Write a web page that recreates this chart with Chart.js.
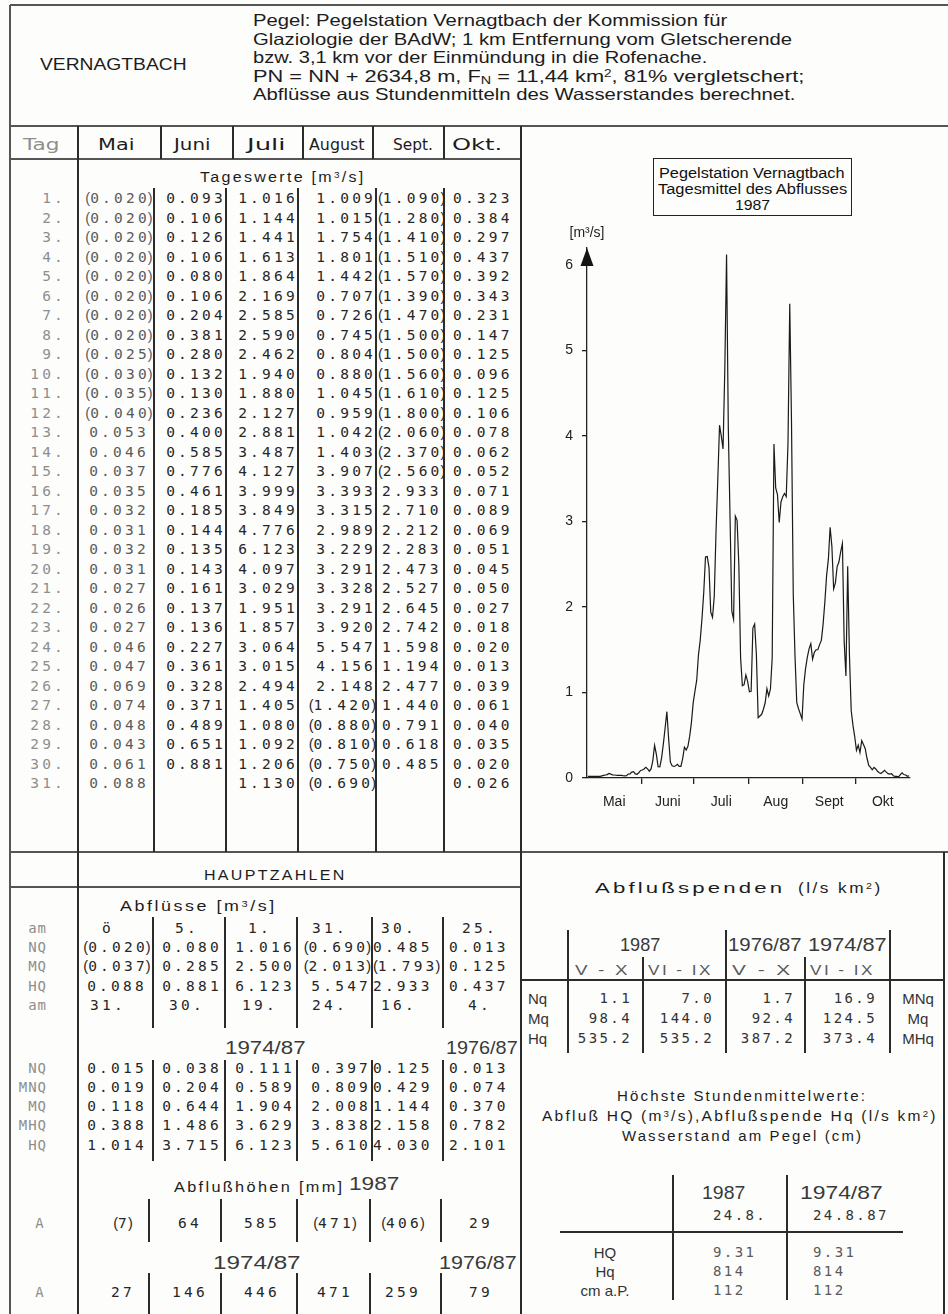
<!DOCTYPE html>
<html lang="de">
<head>
<meta charset="utf-8">
<title>Vernagtbach 1987</title>
<script src="https://cdn.jsdelivr.net/npm/chart.js@4.4.0/dist/chart.umd.min.js"></script>
<style>
  body { margin: 0; background: #fff; }
  #page {
    position: relative; width: 948px; height: 1314px; overflow: hidden;
    background: #fdfdfc; color: #1c1c1c;
    font-family: 'Liberation Sans', Arial, sans-serif;
  }
  .t { position: absolute; white-space: nowrap; line-height: 1; }
  .hd { font-size: 16.5px; }
  .col { font-family: 'DejaVu Sans', sans-serif; font-size: 15px; }
  .m { font-family: 'DejaVu Sans Mono', monospace; font-size: 14.5px; letter-spacing: 3.2px; color: #262626; }
  .ml { font-family: 'DejaVu Sans Mono', monospace; font-size: 14px; letter-spacing: 1px; }
  .sm { font-family: 'DejaVu Sans Mono', monospace; font-size: 14px; letter-spacing: 2.4px; color: #333; }
  .g { color: #8e8e8e; }
  .gm { color: #5a5a5a; }
  .p { font-family: 'Liberation Sans', sans-serif; letter-spacing: 0; }
  .pr { margin-left: -2px; }
  .thin { font-family: 'Liberation Sans Narrow', 'Liberation Sans', sans-serif; font-size: 19px; color: #3a3a3a; }
  .sp { font-size: 14px; letter-spacing: 2px; }
  .lab { font-size: 15px; color: #333; }
  .tb { font-size: 14px; color: #111; }
  .sup { font-size: 0.62em; position: relative; top: -0.45em; }
  .sub { font-size: 0.66em; position: relative; top: 0.22em; }
  .ln { position: absolute; background: #2b2b2b; }
  #titleBox {
    position: absolute; left: 653px; top: 158px; width: 197px; height: 56px;
    border: 1.5px solid #222;
  }
  #chartBox { position: absolute; left: 530px; top: 215px; width: 400px; height: 615px; }
</style>
</head>
<body>
<div id="page">
  <div id="titleBox"></div>
  <div id="chartBox"><canvas id="abfluss" width="400" height="615"></canvas></div>
</div>
<script>
// daily mean discharge 1987 [m3/s]
const mai = [0.020, 0.020, 0.020, 0.020, 0.020, 0.020, 0.020, 0.020, 0.025, 0.030, 0.035, 0.040, 0.053, 0.046, 0.037, 0.035,
  0.032, 0.031, 0.032, 0.031, 0.027, 0.026, 0.027, 0.046, 0.047, 0.069, 0.074, 0.048, 0.043, 0.061, 0.088];
const juni = [0.093, 0.106, 0.126, 0.106, 0.080, 0.106, 0.204, 0.381, 0.280, 0.132, 0.130, 0.236, 0.400, 0.585, 0.776,
  0.461, 0.185, 0.144, 0.135, 0.143, 0.161, 0.137, 0.136, 0.227, 0.361, 0.328, 0.371, 0.489, 0.651, 0.881];
const juli = [1.016, 1.144, 1.441, 1.613, 1.864, 2.169, 2.585, 2.590, 2.462, 1.940, 1.880, 2.127, 2.881, 3.487, 4.127,
  3.999, 3.849, 4.776, 6.123, 4.097, 3.029, 1.951, 1.857, 3.064, 3.015, 2.494, 1.405, 1.080, 1.092, 1.206, 1.130];
const august = [1.009, 1.015, 1.754, 1.801, 1.442, 0.707, 0.726, 0.745, 0.804, 0.880, 1.045, 0.959, 1.042, 1.403, 3.907,
  3.393, 3.315, 2.989, 3.229, 3.291, 3.328, 3.291, 3.920, 5.547, 4.156, 2.148, 1.420, 0.880, 0.810, 0.750, 0.690];
const sept = [1.090, 1.280, 1.410, 1.510, 1.570, 1.390, 1.470, 1.500, 1.500, 1.560, 1.610, 1.800, 2.060, 2.370, 2.560,
  2.933, 2.710, 2.212, 2.283, 2.473, 2.527, 2.645, 2.742, 1.598, 1.194, 2.477, 1.440, 0.791, 0.618, 0.485];
const okt = [0.323, 0.384, 0.297, 0.437, 0.392, 0.343, 0.231, 0.147, 0.125, 0.096, 0.125, 0.106, 0.078, 0.062, 0.052,
  0.071, 0.089, 0.069, 0.051, 0.045, 0.050, 0.027, 0.018, 0.020, 0.013, 0.039, 0.061, 0.040, 0.035, 0.020, 0.026];

// estimated days, printed in brackets: [first, last] per month
const bracketed = [[1, 12], null, null, [27, 31], [1, 15], null];

const monthHeads = ['Mai', 'Juni', 'Juli', 'August', 'Sept.', 'Okt.'];
const monthLabels = ['Mai', 'Juni', 'Juli', 'Aug', 'Sept', 'Okt'];
const yTicks = [0, 1, 2, 3, 4, 5, 6];

// Hauptzahlen, Abflüsse [m3/s]
const amNQ = ['ö', '5.', '1.', '31.', '30.', '25.'];
const nq = ['(0.020)', '0.080', '1.016', '(0.690)', '0.485', '0.013'];
const mq = ['(0.037)', '0.285', '2.500', '(2.013)', '(1.793)', '0.125'];
const hq = ['0.088', '0.881', '6.123', '5.547', '2.933', '0.437'];
const amHQ = ['31.', '30.', '19.', '24.', '16.', '4.'];
const nqLong = ['0.015', '0.038', '0.111', '0.397', '0.125', '0.013'];
const mnqLong = ['0.019', '0.204', '0.589', '0.809', '0.429', '0.074'];
const mqLong = ['0.118', '0.644', '1.904', '2.008', '1.144', '0.370'];
const mhqLong = ['0.388', '1.486', '3.629', '3.838', '2.158', '0.782'];
const hqLong = ['1.014', '3.715', '6.123', '5.610', '4.030', '2.101'];

// Abflußhöhen [mm]
const hoehe1987 = ['(7)', '64', '585', '(471)', '(406)', '29'];
const hoeheLong = ['27', '146', '446', '471', '259', '79'];

// Abflußspenden (l/s km2)
const spendenNq = ['1.1', '7.0', '1.7', '16.9'];
const spendenMq = ['98.4', '144.0', '92.4', '124.5'];
const spendenHq = ['535.2', '535.2', '387.2', '373.4'];

// highest hourly means
const hoechste1987 = ['9.31', '814', '112'];
const hoechsteLong = ['9.31', '814', '112'];

const page = document.getElementById('page');

function txt(html, x, y, o = {}) {
  const el = document.createElement('div');
  el.className = 't ' + (o.cls || '');
  el.innerHTML = html;
  page.appendChild(el);
  const a = o.align || 'l';
  el.style.top = y + 'px';
  if (o.w) {
    const k = o.w / el.offsetWidth;
    el.style.left = (a === 'c' ? x - o.w / 2 : a === 'r' ? x - o.w : x) + 'px';
    el.style.transformOrigin = '0 50%';
    el.style.transform = `translateY(-50%) scaleX(${k})`;
  } else {
    el.style.left = x + 'px';
    const tx = a === 'c' ? -50 : a === 'r' ? -100 : 0;
    el.style.transform = `translate(${tx}%, -50%)`;
  }
  return el;
}

function hl(x1, x2, y, w = 1.4, c = '#2b2b2b') {
  const el = document.createElement('div');
  el.className = 'ln';
  Object.assign(el.style, { left: x1 + 'px', top: (y - w / 2) + 'px', width: (x2 - x1) + 'px', height: w + 'px', background: c });
  page.appendChild(el);
}

function vl(x, y1, y2, w = 1.6, c = '#2b2b2b') {
  const el = document.createElement('div');
  el.className = 'ln';
  Object.assign(el.style, { left: (x - w / 2) + 'px', top: y1 + 'px', width: w + 'px', height: (y2 - y1) + 'px', background: c });
  page.appendChild(el);
}

const paren = (s) => s.replace('(', '<span class="p">(</span>').replace(')', '<span class="p pr">)</span>');

// ---- frame and header ----
hl(10, 948, 5, 1.4, '#555');
vl(10, 5, 1314, 1.4, '#555');
hl(10, 948, 126, 1.4, '#555');
hl(10, 521, 159, 1.4, '#555');
hl(10, 948, 852, 1.4, '#555');
hl(10, 521, 887, 1.4, '#555');
vl(78, 126, 1314);
vl(521, 126, 1314);
vl(944, 852, 1314);

txt('VERNAGTBACH', 40, 64, { cls: 'hd', w: 147 });
const headerLines = [
  ['Pegel: Pegelstation Vernagtbach der Kommission für', 474],
  ['Glaziologie der BAdW; 1 km Entfernung vom Gletscherende', 539],
  ['bzw. 3,1 km vor der Einmündung in die Rofenache.', 454],
  ['PN = NN + 2634,8 m, F<span class="sub">N</span> = 11,44 km<span class="sup">2</span>, 81% vergletschert;', 551],
  ['Abflüsse aus Stundenmitteln des Wasserstandes berechnet.', 543],
];
headerLines.forEach(([s, w], i) => txt(s, 253, 20 + i * 18.6, { cls: 'hd', w }));

// ---- daily values table ----
txt('Tag', 41, 145, { cls: 'col g', align: 'c', w: 36 });
const headSpans = [[98, 134], [174, 211], [247, 285], [309, 365], [393, 433], [452, 502]];
monthHeads.forEach((s, i) => txt(s, headSpans[i][0], 145, { cls: 'col', w: headSpans[i][1] - headSpans[i][0] }));
[161, 233, 303, 373, 444].forEach((x) => vl(x, 126, 159));

txt('Tageswerte [m<span class="sup">3</span>/s]', 283, 177, { cls: 'sp', align: 'c', w: 166 });

[154, 226, 298, 376, 444].forEach((x) => vl(x, 188, 852));

const rowY = (d) => 198 + (d - 1) * 19.5;
const anchors = [['c', 119], ['c', 196], ['c', 268], ['r', 376], ['l', 378], ['l', 449]];
for (let d = 1; d <= 31; d++) {
  txt(d + '.', 66, rowY(d), { cls: 'm g', align: 'r' });
}
[mai, juni, juli, august, sept, okt].forEach((values, m) => {
  const [align, x] = anchors[m];
  const br = bracketed[m];
  values.forEach((v, i) => {
    const day = i + 1;
    const inBr = br && day >= br[0] && day <= br[1];
    const s = inBr ? paren('(' + v.toFixed(3) + ')') : v.toFixed(3);
    const xx = align === 'l' && !inBr ? x + 4 : x;
    txt(s, xx, rowY(day), { cls: 'm' + (m === 0 ? ' gm' : ''), align });
  });
});

// ---- Hauptzahlen ----
txt('HAUPTZAHLEN', 275, 875, { cls: 'sp', align: 'c', w: 143 });
txt('Abflüsse  [m<span class="sup">3</span>/s]', 198, 906, { cls: 'sp', align: 'c', w: 157 });

const hzAnchors = [['c', 117], ['c', 192], ['c', 265], ['r', 371], ['l', 373], ['l', 449]];
const hzCenters = [108, 187, 260, 330, 399, 480];
function hzRow(label, values, y, centered) {
  txt(label, 47, y, { cls: 'ml g', align: 'r' });
  values.forEach((s, i) => {
    if (centered) {
      txt(s, hzCenters[i], y, { cls: 'm', align: 'c' });
    } else {
      const [align, x] = hzAnchors[i];
      txt(paren(s), x, y, { cls: 'm', align });
    }
  });
}
hzRow('am', amNQ, 928, true);
hzRow('NQ', nq, 947);
hzRow('MQ', mq, 966);
hzRow('HQ', hq, 986);
hzRow('am', amHQ, 1005, true);
txt('1974/87', 225, 1047, { cls: 'thin', w: 81 });
txt('1976/87', 446, 1047, { cls: 'thin', w: 72 });
hzRow('NQ', nqLong, 1068);
hzRow('MNQ', mnqLong, 1087);
hzRow('MQ', mqLong, 1106);
hzRow('MHQ', mhqLong, 1125);
hzRow('HQ', hqLong, 1145);
[153, 225, 297, 372, 443].forEach((x) => { vl(x, 917, 1028); vl(x, 1060, 1161); });

txt('Abflußhöhen [mm]', 174, 1187, { cls: 'sp', w: 170 });
txt('1987', 349, 1183, { cls: 'thin', w: 50 });
const aCenters = [123, 190, 262, 335, 403, 481];
txt('A', 40, 1223, { cls: 'ml g', align: 'c' });
hoehe1987.forEach((s, i) => txt(paren(s), aCenters[i], 1223, { cls: 'm', align: 'c' }));
txt('1974/87', 213, 1262, { cls: 'thin', w: 88 });
txt('1976/87', 439, 1262, { cls: 'thin', w: 78 });
txt('A', 40, 1292, { cls: 'ml g', align: 'c' });
hoeheLong.forEach((s, i) => txt(s, aCenters[i], 1292, { cls: 'm', align: 'c' }));
[149, 221, 297, 370, 441].forEach((x) => { vl(x, 1199, 1242); vl(x, 1273, 1314); });

// ---- Abflußspenden ----
txt('Abflußspenden', 595, 888, { cls: 'sp', w: 190 });
txt('(l/s km<span class="sup">2</span>)', 798, 888, { cls: 'sp', w: 85 });
txt('1987', 640, 944, { cls: 'thin', align: 'c', w: 40 });
txt('1976/87', 728, 944, { cls: 'thin', w: 74 });
txt('1974/87', 808, 944, { cls: 'thin', w: 79 });
[['V - X', 575, 630], ['VI - IX', 648, 713], ['V - X', 732, 793], ['VI - IX', 810, 875]]
  .forEach(([s, a, b]) => txt(s, a, 970, { cls: 'sp gm', w: b - a }));
hl(521, 944, 980);
[568, 726, 890].forEach((x) => vl(x, 930, 1053));
[643, 805].forEach((x) => vl(x, 957, 1053));
const spRight = [630, 712, 793, 875];
[['Nq', spendenNq, 'MNq'], ['Mq', spendenMq, 'Mq'], ['Hq', spendenHq, 'MHq']].forEach(([l, vals, r], j) => {
  const y = 998 + j * 20;
  txt(l, 528, y, { cls: 'lab' });
  vals.forEach((s, i) => txt(s, spRight[i] + 2, y, { cls: 'sm', align: 'r' }));
  txt(r, 918, y, { cls: 'lab', align: 'c' });
});

// ---- highest hourly means ----
txt('Höchste Stundenmittelwerte:', 742, 1096, { cls: 'sp', align: 'c', w: 250 });
txt('Abfluß HQ (m<span class="sup">3</span>/s),Abflußspende Hq (l/s km<span class="sup">2</span>)', 542, 1116, { cls: 'sp', w: 396 });
txt('Wasserstand am Pegel (cm)', 742, 1136, { cls: 'sp', align: 'c', w: 241 });
txt('1987', 702, 1192, { cls: 'thin', w: 43 });
txt('1974/87', 800, 1192, { cls: 'thin', w: 83 });
txt('24.8.', 713, 1215, { cls: 'sm' });
txt('24.8.87', 813, 1215, { cls: 'sm' });
hl(560, 903, 1232);
[673, 787].forEach((x) => vl(x, 1175, 1300));
['HQ', 'Hq', 'cm a.P.'].forEach((l, i) => {
  const y = 1252 + i * 19;
  txt(l, 605, y, { cls: 'lab', align: 'c' });
  txt(hoechste1987[i], 713, y, { cls: 'sm gm' });
  txt(hoechsteLong[i], 813, y, { cls: 'sm gm' });
});

// ---- chart title box ----
txt('Pegelstation Vernagtbach', 752, 173, { cls: 'tb', align: 'c', w: 186 });
txt('Tagesmittel des Abflusses', 752, 189, { cls: 'tb', align: 'c', w: 189 });
txt('1987', 752, 205, { cls: 'tb', align: 'c', w: 35 });

// ---- daily mean discharge chart ----
const points = [];
const monthEdges = [0];
[mai, juni, juli, august, sept, okt].forEach((values) => {
  const start = monthEdges[monthEdges.length - 1];
  values.forEach((v, i) => points.push({ x: start + i + 0.5, y: v }));
  monthEdges.push(start + values.length);
});
const innerEdges = monthEdges.slice(1, -1);
const monthMids = monthLabels.map((_, i) => (monthEdges[i] + monthEdges[i + 1]) / 2);
const xTicks = [...innerEdges, ...monthMids].sort((a, b) => a - b);

//arrow head on the value axis and its unit
const axisArrow = {
  id: 'axisArrow',
  afterDraw(chart) {
    const { ctx, chartArea } = chart;
    const x = chartArea.left;
    const top = chartArea.top;
    ctx.save();
    ctx.fillStyle = '#151515';
    ctx.beginPath();
    ctx.moveTo(x, top);
    ctx.lineTo(x - 6.5, top + 18);
    ctx.lineTo(x + 6.5, top + 18);
    ctx.closePath();
    ctx.fill();
    ctx.font = '14px "Liberation Sans", Arial, sans-serif';
    ctx.fillStyle = '#222';
    ctx.textAlign = 'center';
    ctx.textBaseline = 'middle';
    ctx.fillText('[m³/s]', x, top - 15);
    ctx.restore();
  },
};

const axisFont = { family: '"Liberation Sans", Arial, sans-serif', size: 14 };

new Chart(document.getElementById('abfluss'), {
  type: 'line',
  data: {
    datasets: [
      {
        data: points,
        borderColor: '#1a1a1a',
        borderWidth: 1.2,
        pointRadius: 0,
        tension: 0,
        clip: false,
      },
    ],
  },
  options: {
    responsive: false,
    animation: false,
    layout: { padding: { top: 33, right: 20, bottom: 12, left: 0 } },
    plugins: { legend: { display: false }, tooltip: { enabled: false } },
    scales: {
      x: {
        type: 'linear',
        min: 0,
        max: monthEdges[monthEdges.length - 1],
        afterBuildTicks: (scale) => {
          scale.ticks = xTicks.map((value) => ({ value }));
        },
        afterFit: (scale) => {
          scale.height = 40;
        },
        ticks: {
          autoSkip: false,
          maxRotation: 0,
          padding: 10,
          color: '#222',
          font: axisFont,
          callback: (value) => {
            const i = monthMids.indexOf(value);
            return i >= 0 ? monthLabels[i] : '';
          },
        },
        grid: {
          drawOnChartArea: false,
          tickLength: 6,
          lineWidth: 1.3,
          color: (c) => (c.tick && innerEdges.includes(c.tick.value) ? '#222' : 'rgba(0,0,0,0)'),
        },
        border: { color: '#222', width: 1.3 },
      },
      y: {
        min: 0,
        max: 6.2,
        afterBuildTicks: (scale) => {
          scale.ticks = yTicks.map((value) => ({ value }));
        },
        afterFit: (scale) => {
          scale.width = 57;
        },
        ticks: { padding: 9, color: '#222', font: axisFont },
        grid: { drawOnChartArea: false, tickLength: 5, lineWidth: 1.3, color: '#222' },
        border: { color: '#222', width: 1.3 },
      },
    },
  },
  plugins: [axisArrow],
});
</script>
</body>
</html>
